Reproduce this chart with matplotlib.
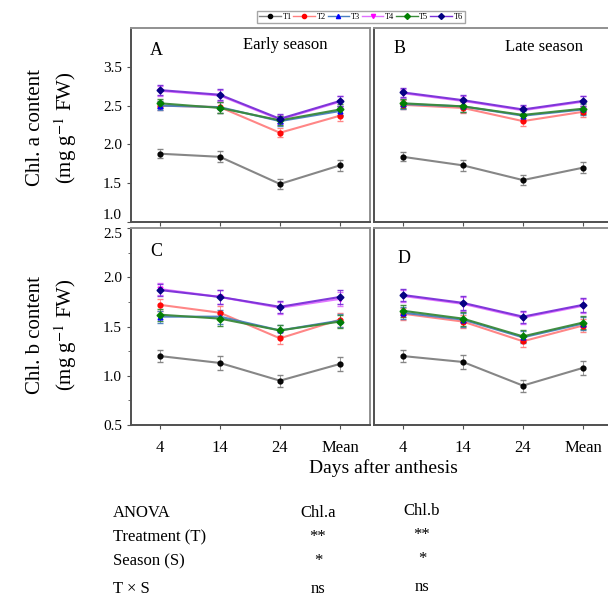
import matplotlib.pyplot as plt
from matplotlib.lines import Line2D

plt.rcParams['font.family'] = ['Liberation Serif', 'DejaVu Serif']
plt.rcParams['mathtext.fontset'] = 'stix'

days = ['4', '14', '24', 'Mean']
treatments = ['T1', 'T2', 'T3', 'T4', 'T5', 'T6']

# Chl. a, early season (panel A)
a_early = {
    'T1': [1.88, 1.84, 1.49, 1.73],
    'T2': [2.50, 2.48, 2.15, 2.37],
    'T3': [2.50, 2.48, 2.30, 2.43],
    'T4': [2.69, 2.63, 2.32, 2.55],
    'T5': [2.53, 2.47, 2.31, 2.45],
    'T6': [2.70, 2.64, 2.33, 2.56],
}
# Chl. a, late season (panel B)
a_late = {
    'T1': [1.84, 1.73, 1.54, 1.70],
    'T2': [2.51, 2.47, 2.30, 2.42],
    'T3': [2.52, 2.49, 2.37, 2.45],
    'T4': [2.66, 2.56, 2.44, 2.55],
    'T5': [2.53, 2.49, 2.38, 2.46],
    'T6': [2.67, 2.57, 2.45, 2.56],
}
# Chl. b, early season (panel C)
b_early = {
    'T1': [1.20, 1.13, 0.95, 1.12],
    'T2': [1.72, 1.64, 1.38, 1.57],
    'T3': [1.60, 1.60, 1.46, 1.56],
    'T4': [1.88, 1.80, 1.69, 1.78],
    'T5': [1.62, 1.58, 1.46, 1.55],
    'T6': [1.87, 1.80, 1.70, 1.80],
}
# Chl. b, late season (panel D)
b_late = {
    'T1': [1.20, 1.14, 0.90, 1.08],
    'T2': [1.63, 1.55, 1.35, 1.51],
    'T3': [1.64, 1.57, 1.39, 1.53],
    'T4': [1.81, 1.73, 1.59, 1.71],
    'T5': [1.66, 1.58, 1.40, 1.54],
    'T6': [1.82, 1.74, 1.60, 1.72],
}
err = [0.06, 0.07, 0.06, 0.07]

a_ticks = [1.0, 1.5, 2.0, 2.5, 3.0]
a_ticklabels = ['1.0', '1.5', '2.0', '2.5', '3.5']
b_ticks = [0.5, 1.0, 1.5, 2.0, 2.5]

anova_rows = ['ANOVA', 'Treatment (T)', 'Season (S)', 'T \u00d7 S']
anova_a = ['Chl.a', '**', '*', 'ns']
anova_b = ['Chl.b', '**', '*', 'ns']

styles = {
    'T1': dict(line='#808080', mk='o', mc='black'),
    'T2': dict(line='#ff8080', mk='o', mc='red'),
    'T3': dict(line='#4a7fc0', mk='^', mc='blue'),
    'T4': dict(line='#e070ff', mk='v', mc='magenta'),
    'T5': dict(line='#3a8a3a', mk='D', mc='green'),
    'T6': dict(line='#7a30d8', mk='D', mc='#000080'),
}

fig = plt.figure(figsize=(6.08, 5.99), dpi=100)
W, H = 608, 599


def make_ax(x0, x1, ytop, ybot):
    return fig.add_axes([x0 / W, 1 - ybot / H, (x1 - x0) / W, (ybot - ytop) / H])


axA = make_ax(131, 370, 28, 222)
axB = make_ax(374, 613, 28, 222)
axC = make_ax(131, 370, 228, 425)
axD = make_ax(374, 613, 228, 425)

x = list(range(len(days)))


def draw(ax, data):
    for t in treatments:
        s = styles[t]
        ax.errorbar(x, data[t], yerr=err, color=s['line'], lw=1.5,
                    marker=s['mk'], ms=3.5, mfc=s['mc'], mec=s['mc'],
                    ecolor=s['line'], elinewidth=0.6, capsize=2, alpha=0.95)
    ax.set_xlim(-0.48, 3.5)
    ax.set_xticks(x)
    for sp in ax.spines.values():
        sp.set_color('#909090')
        sp.set_linewidth(1.4)
    ax.spines['left'].set_color('#505050')
    ax.spines['bottom'].set_color('#505050')
    ax.tick_params(direction='out', length=3, width=0.8, colors='#505050',
                   labelcolor='black', labelsize=11)


draw(axA, a_early)
draw(axB, a_late)
draw(axC, b_early)
draw(axD, b_late)

for ax in (axA, axB):
    ax.set_ylim(1.0, 3.5)
    ax.set_yticks(a_ticks)
    ax.tick_params(labelbottom=False)
axA.set_yticklabels(a_ticklabels)
axA.get_yticklabels()[0].set_va('bottom')
for ax in (axC, axD):
    ax.set_ylim(0.5, 2.5)
    ax.set_yticks(b_ticks)
    ax.set_yticks([0.75, 1.25, 1.75, 2.25], minor=True)
    ax.tick_params(which='minor', length=2, colors='#505050')
    ax.set_xticklabels(days)
    ax.tick_params(axis='x', pad=8, labelsize=12)
axC.get_yticklabels()[-1].set_va('top')
for ax in (axB, axD):
    ax.tick_params(labelleft=False, left=False, which='both')

axA.text(0.08, 0.86, 'A', transform=axA.transAxes, fontsize=13)
axA.text(0.47, 0.89, 'Early season', transform=axA.transAxes, fontsize=12)
axB.text(0.08, 0.87, 'B', transform=axB.transAxes, fontsize=13)
axB.text(0.55, 0.88, 'Late season', transform=axB.transAxes, fontsize=12)
axC.text(0.08, 0.86, 'C', transform=axC.transAxes, fontsize=13)
axD.text(0.10, 0.82, 'D', transform=axD.transAxes, fontsize=13)

fig.text(35 / W, 1 - 128 / H, 'Chl. a content', rotation=90, ha='center', va='center', fontsize=15)
fig.text(66 / W, 1 - 128 / H, '(mg g$^{-1}$ FW)', rotation=90, ha='center', va='center', fontsize=15)
fig.text(35 / W, 1 - 335 / H, 'Chl. b content', rotation=90, ha='center', va='center', fontsize=15)
fig.text(66 / W, 1 - 335 / H, '(mg g$^{-1}$ FW)', rotation=90, ha='center', va='center', fontsize=15)
fig.text(383 / W, 1 - 468 / H, 'Days after anthesis', ha='center', va='center', fontsize=14)

handles = [Line2D([], [], color=styles[t]['line'], marker=styles[t]['mk'], ms=3,
                  mfc=styles[t]['mc'], mec=styles[t]['mc'], lw=1) for t in treatments]
fig.legend(handles, treatments, loc='center', bbox_to_anchor=(361 / W, 1 - 17 / H),
           ncol=6, fontsize=6, handlelength=2.6, handletextpad=0.2, columnspacing=0.2,
           frameon=True, fancybox=False, edgecolor='#909090', borderpad=0.25)

row_y = [513, 537, 561, 589]
for label, va_, vb_, yy in zip(anova_rows, anova_a, anova_b, row_y):
    fig.text(113 / W, 1 - yy / H, label, ha='left', va='center', fontsize=12)
    fig.text(318 / W, 1 - yy / H, va_, ha='center', va='center', fontsize=12)
    fig.text(422 / W, 1 - (yy - 2) / H, vb_, ha='center', va='center', fontsize=12)

fig.savefig('out.png', dpi=100)
